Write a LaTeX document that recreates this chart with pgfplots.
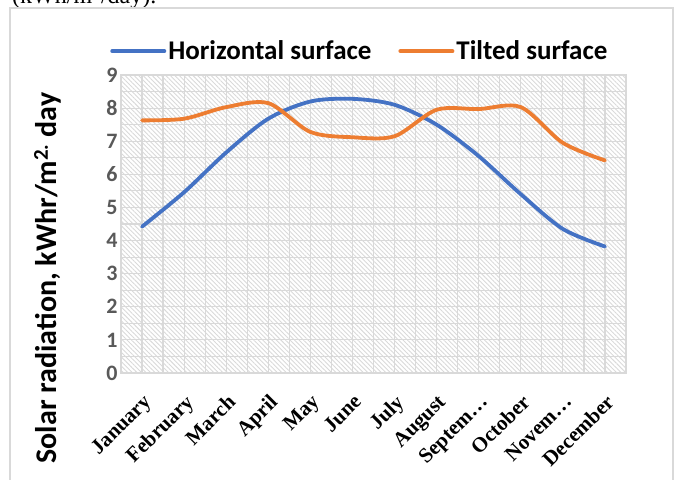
\documentclass[border=0pt]{standalone}
\usepackage{pgfplots}
\pgfplotsset{compat=1.18}
\usepackage{fontspec}
\setmainfont{Carlito}
\newfontfamily\tnr{Liberation Serif}
\usetikzlibrary{patterns.meta}
\definecolor{xlblue}{HTML}{4472C4}
\definecolor{xlorange}{HTML}{ED7D31}
\definecolor{xlgrid}{HTML}{D9D9D9}
\definecolor{xltick}{HTML}{595959}
\begin{document}
\begin{tikzpicture}
\useasboundingbox (-121bp,-107bp) rectangle (558bp,373bp);
\node[anchor=base west, inner sep=0pt, font=\tnr\fontsize{24bp}{26bp}\selectfont] at (-109bp,369bp) {(kWh/m\textsuperscript{2}/day).};
\draw[xlgrid, line width=1.5bp] (-111bp,-130bp) -- (-111bp,365bp) -- (552bp,365bp) -- (552bp,-130bp);
\begin{axis}[
  at={(0bp,0bp)}, anchor=south west,
  scale only axis,
  width=505bp, height=298bp,
  xmin=-0.5, xmax=11.5,
  ymin=0, ymax=9,
  xtick={0,...,11},
  xticklabels={January,February,March,April,May,June,July,August,Septem\ldots,October,Novem\ldots,December},
  ytick={0,...,9},
  minor x tick num=1,
  minor y tick num=1,
  grid=both,
  major grid style={xlgrid, line width=1.2bp},
  minor grid style={xlgrid, line width=1.2bp},
  axis line style={xlgrid, line width=1.2bp},
  tick style={draw=none},
  axis background/.style={pattern={Lines[angle=-45,distance=3.2bp,line width=0.9bp]}, pattern color=xlgrid},
  yticklabel style={font=\fontsize{22bp}{24bp}\selectfont\bfseries, text=xltick},
  /pgf/number format/assume math mode=true,
  x tick label style={font=\tnr\bfseries\fontsize{21bp}{23bp}\selectfont, xshift=0bp, yshift=-20bp, rotate=45, anchor=north east, inner sep=0bp},
  ylabel={Solar radiation, kWhr/m\textsuperscript{2.} day},
  ylabel style={font=\fontsize{30bp}{32bp}\selectfont\bfseries, at={(axis description cs:-0.145,0.319)}, anchor=center},
  legend columns=2,
  legend style={draw=none, fill=none, at={(0.473,1.080)}, anchor=center, font=\fontsize{27bp}{29bp}\selectfont\bfseries,
    /tikz/every even column/.append style={column sep=25bp}},
  legend image code/.code={\draw[#1, line width=4bp, line cap=round] (0bp,0bp) -- (52bp,0bp);},
]
\addplot[xlblue, line width=3.8bp, smooth, line cap=round] coordinates {
(0,4.42) (1,5.46) (2,6.66) (3,7.68) (4,8.2) (5,8.28) (6,8.1) (7,7.5) (8,6.55) (9,5.4) (10,4.35) (11,3.82)};
\addlegendentry{Horizontal surface}
\addplot[xlorange, line width=3.8bp, smooth, line cap=round] coordinates {
(0,7.63) (1,7.68) (2,8.03) (3,8.15) (4,7.28) (5,7.12) (6,7.15) (7,7.95) (8,7.97) (9,8.03) (10,6.95) (11,6.42)};
\addlegendentry{Tilted surface}
\end{axis}
\end{tikzpicture}
\end{document}
